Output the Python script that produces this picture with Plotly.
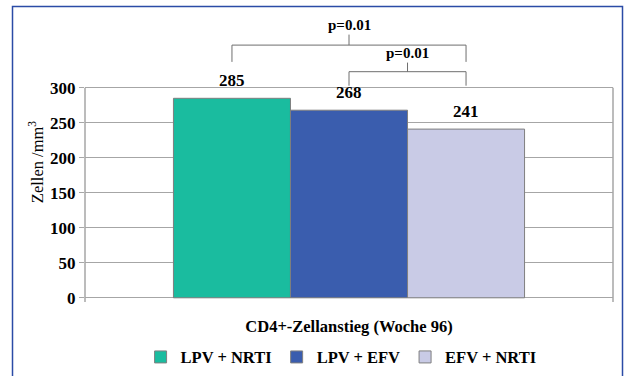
import plotly.graph_objects as go

# ---------------- data ----------------
categories = ["CD4+-Zellanstieg (Woche 96)"]
series_names = ["LPV + NRTI", "LPV + EFV", "EFV + NRTI"]
series_values = [285, 268, 241]
series_colors = ["#1ABC9F", "#3A5DAE", "#C9CBE6"]
y_ticks = [0, 50, 100, 150, 200, 250, 300]
p_labels = ["p=0.01", "p=0.01"]
p_pairs = [(0, 2), (1, 2)]

# ---------------- layout constants ----------------
FONT = "Liberation Serif"
BARGAP = 0.335
GRID = "#A6A6A6"
n = len(series_names)
bar_w = (1 - BARGAP) / n
centers = [-(1 - BARGAP) / 2 + bar_w * (i + 0.5) for i in range(n)]

# bracket levels (data units): (horizontal, leg bottom, mid tick top)
bracket_levels = [(361, 337, 376), (323, 303, 336)]

bold = lambda s: dict(family=FONT, size=s, color="black", weight="bold")

fig = go.Figure()
for name, val, col in zip(series_names, series_values, series_colors):
    fig.add_trace(go.Bar(
        x=categories, y=[val], name=name,
        marker=dict(color=col, line=dict(color="#7F7F7F", width=1)),
    ))

shapes = []
annotations = []

# value labels above bars
for c, v in zip(centers, series_values):
    annotations.append(dict(x=c, y=v, xref="x", yref="y", text=str(v),
                            showarrow=False, yanchor="bottom", yshift=6,
                            font=bold(17)))

# brackets
for (a, b), lab, (yh, yl, yt) in zip(p_pairs, p_labels, bracket_levels):
    xa, xb = centers[a], centers[b]
    xm = (xa + xb) / 2
    line = dict(color="#6E6E6E", width=1)
    shapes.append(dict(type="line", xref="x", yref="y", x0=xa, x1=xb, y0=yh, y1=yh, line=line))
    shapes.append(dict(type="line", xref="x", yref="y", x0=xa, x1=xa, y0=yh, y1=yl, line=line))
    shapes.append(dict(type="line", xref="x", yref="y", x0=xb, x1=xb, y0=yh, y1=yl, line=line))
    shapes.append(dict(type="line", xref="x", yref="y", x0=xm, x1=xm, y0=yh, y1=yt, line=line))
    annotations.append(dict(x=xm, y=yt, xref="x", yref="y", text=lab,
                            showarrow=False, yanchor="bottom", yshift=0,
                            font=bold(15)))

# left axis line and right border line
shapes.append(dict(type="line", xref="paper", yref="y", x0=0, x1=0, y0=-6, y1=300,
                   line=dict(color=GRID, width=1.5)))
shapes.append(dict(type="line", xref="paper", yref="y", x0=1, x1=1, y0=-6, y1=300,
                   line=dict(color=GRID, width=1.5)))
# outer blue frame
shapes.append(dict(type="rect", xref="paper", yref="paper", x0=-0.1373, x1=1.018,
                   y0=-0.3, y1=1.0554, line=dict(color="#2B4BA6", width=1.5),
                   fillcolor="rgba(0,0,0,0)", layer="above"))

fig.update_layout(
    width=625, height=376,
    margin=dict(l=85, r=12, t=22, b=74, autoexpand=False),
    paper_bgcolor="white", plot_bgcolor="white",
    barmode="group", bargap=BARGAP, bargroupgap=0,
    font=dict(family=FONT, color="black"),
    showlegend=True,
    legend=dict(orientation="h", x=0.485, xanchor="center",
                yref="container", y=0.05, yanchor="middle",
                font=bold(16.5), itemwidth=30, bgcolor="rgba(0,0,0,0)"),
    shapes=shapes, annotations=annotations,
)
fig.update_xaxes(showgrid=False, zeroline=False, showline=False, ticks="",
                 automargin=False, tickfont=bold(16.5), ticklabelstandoff=12)
fig.update_yaxes(range=[-6, 394], tickvals=y_ticks,
                 showgrid=True, gridcolor=GRID, gridwidth=1.2, zeroline=False, showline=False,
                 ticks="outside", ticklen=5, tickcolor=GRID, tickwidth=1.2,
                 automargin=False, tickfont=bold(17),
                 title=dict(text="Zellen /mm<sup>3</sup>", standoff=2,
                            font=dict(family=FONT, size=16.5, color="black")))

fig.write_html("out.html", config={"displayModeBar": False},
               post_script="document.body.style.margin='0';document.body.style.overflow='hidden';")
